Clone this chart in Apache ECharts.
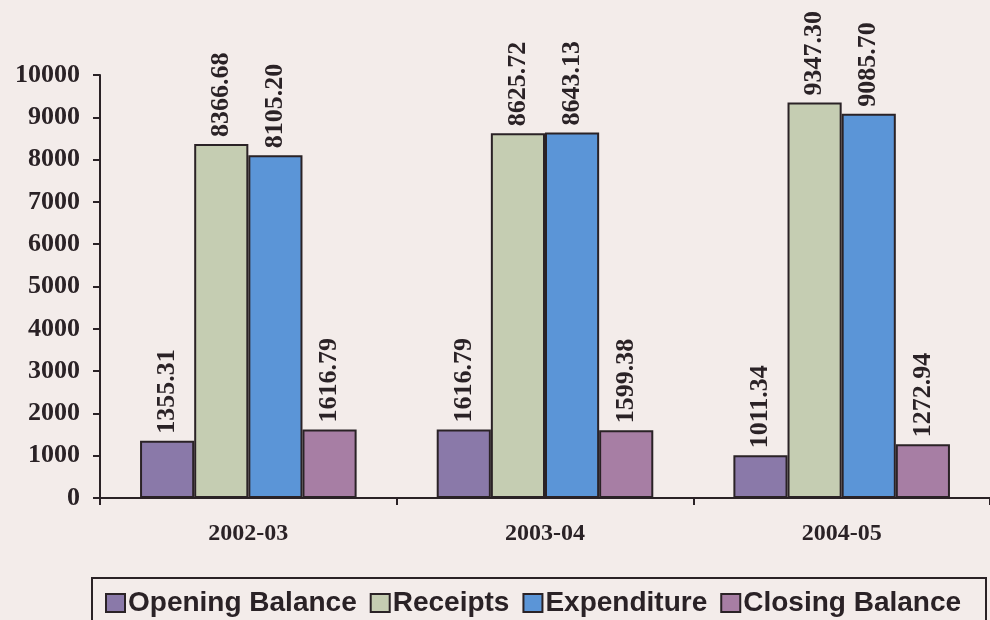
<!DOCTYPE html>
<html>
<head>
<meta charset="utf-8">
<script src="https://cdn.jsdelivr.net/npm/echarts@6/dist/echarts.min.js"></script>
<style>
html,body{margin:0;padding:0;background:#f3ecea;}
#chart{width:990px;height:620px;}
</style>
</head>
<body>
<div id="chart"></div>
<script>
var categories = ['2002-03', '2003-04', '2004-05'];
var openingBalance = [1355.31, 1616.79, 1011.34];
var receipts = [8366.68, 8625.72, 9347.30];
var expenditure = [8105.20, 8643.13, 9085.70];
var closingBalance = [1616.79, 1599.38, 1272.94];
var seriesNames = ['Opening Balance', 'Receipts', 'Expenditure', 'Closing Balance'];
var seriesColors = ['#8a79a9', '#c5cdb2', '#5b95d7', '#a77ea4'];
var yTicks = { min: 0, max: 10000, interval: 1000 };

var ink = '#2a2226';
var serif = '"Liberation Serif", "Times New Roman", serif';

function makeSeries(name, data, color) {
  return {
    name: name,
    type: 'bar',
    data: data,
    barGap: '0%',
    barCategoryGap: '27%',
    itemStyle: { color: color, borderColor: ink, borderWidth: 2 },
    label: {
      show: true,
      position: 'top',
      distance: 7,
      rotate: 90,
      align: 'left',
      verticalAlign: 'middle',
      fontFamily: serif,
      fontWeight: 'bold',
      fontSize: 26,
      color: ink,
      formatter: function (p) { return p.value.toFixed(2); }
    }
  };
}

var chart = echarts.init(document.getElementById('chart'));
chart.setOption({
  backgroundColor: '#f3ecea',
  animation: false,
  grid: { left: 100, top: 75, width: 894, height: 423, containLabel: false },
  xAxis: {
    type: 'category',
    data: categories,
    axisLine: { lineStyle: { color: ink, width: 2 } },
    axisTick: { show: true, length: 7, lineStyle: { color: ink, width: 2 } },
    axisLabel: { fontFamily: serif, fontWeight: 'bold', fontSize: 24, color: ink, margin: 24 }
  },
  yAxis: {
    type: 'value',
    min: yTicks.min,
    max: yTicks.max,
    interval: yTicks.interval,
    splitLine: { show: false },
    axisLine: { show: true, lineStyle: { color: ink, width: 2 } },
    axisTick: { show: true, length: 7, lineStyle: { color: ink, width: 2 } },
    axisLabel: {
      fontFamily: serif, fontWeight: 'bold', fontSize: 26, color: ink, margin: 20,
      formatter: function (v) { return String(v); }
    }
  },
  legend: {
    data: seriesNames,
    left: 100,
    top: 584,
    itemWidth: 19,
    itemHeight: 18,
    itemGap: 13,
    icon: 'rect',
    itemStyle: { borderColor: ink, borderWidth: 2 },
    textStyle: { fontFamily: '"Liberation Sans", Arial, sans-serif', fontWeight: 'bold', fontSize: 28, color: ink, padding: [0, 0, 0, -2] }
  },
  graphic: [{
    type: 'rect',
    shape: { x: 92, y: 578, width: 894, height: 50 },
    style: { fill: 'none', stroke: ink, lineWidth: 2 },
    silent: true
  }],
  series: [
    makeSeries(seriesNames[0], openingBalance, seriesColors[0]),
    makeSeries(seriesNames[1], receipts, seriesColors[1]),
    makeSeries(seriesNames[2], expenditure, seriesColors[2]),
    makeSeries(seriesNames[3], closingBalance, seriesColors[3])
  ]
});
</script>
</body>
</html>
